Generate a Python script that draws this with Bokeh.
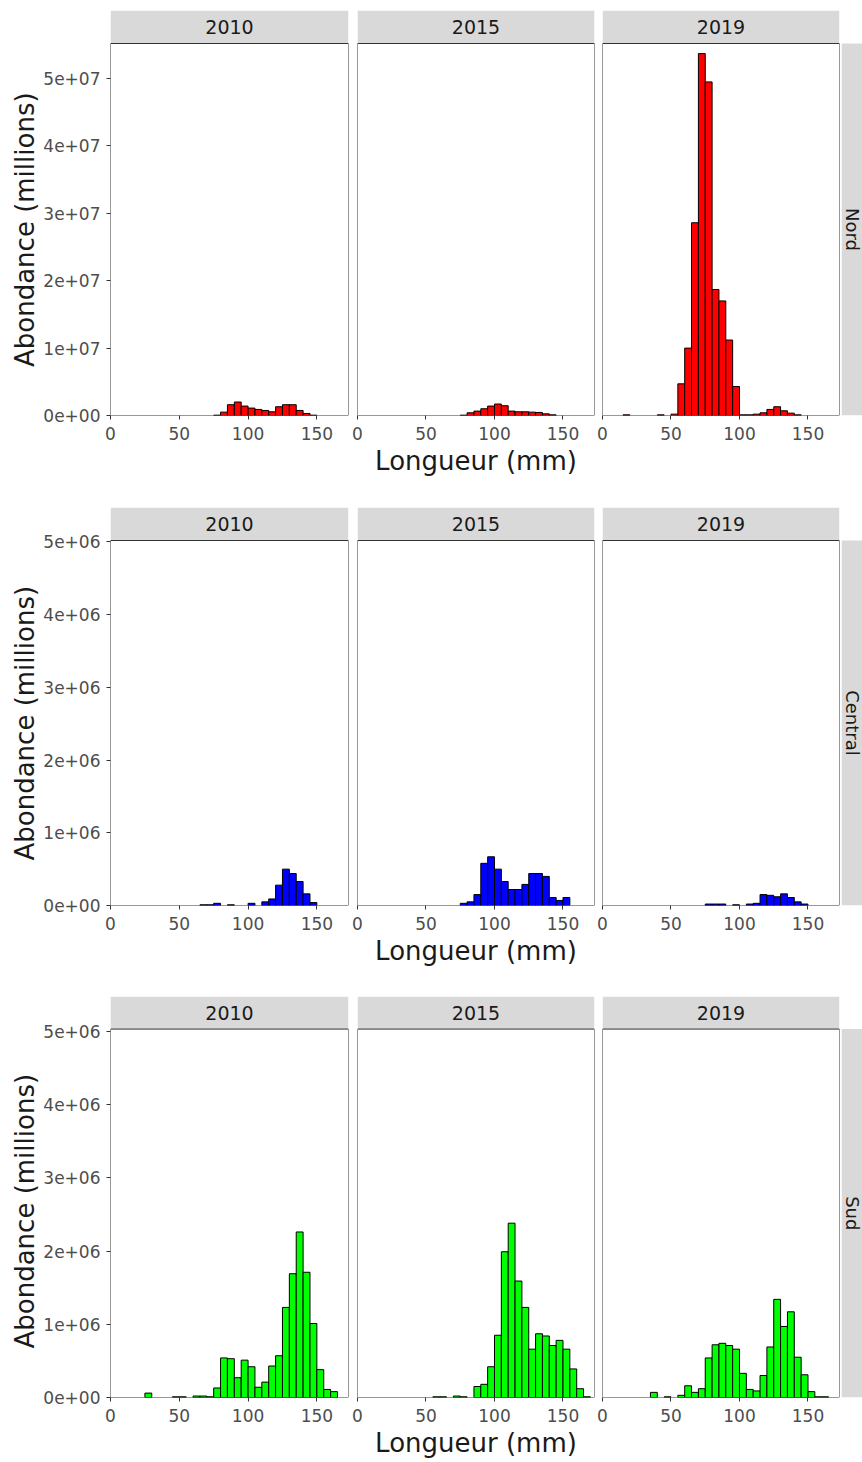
import math
from bokeh.plotting import figure
from bokeh.layouts import column, row
from bokeh.models import (Range1d, FixedTicker, CustomJSTickFormatter, Label,
                          BoxAnnotation, Title)
from bokeh.embed import file_html
from bokeh.resources import INLINE

# ---------------- data ----------------
years = ["2010", "2015", "2019"]
regions = ["Nord", "Central", "Sud"]
BIN_WIDTH = 5
x_ticks = [0, 50, 100, 150]
nord_y_ticks = [0, 1e7, 2e7, 3e7, 4e7, 5e7]
other_y_ticks = [0, 1e6, 2e6, 3e6, 4e6, 5e6]

nord_2010_len = [75, 80, 85, 90, 95, 100, 105, 110, 115, 120, 125, 130, 135, 140, 145]
nord_2010_abund = [0.05e6, 0.5e6, 1.6e6, 2.0e6, 1.4e6, 1.1e6, 0.9e6, 0.75e6, 0.55e6,
                   1.3e6, 1.6e6, 1.6e6, 0.75e6, 0.3e6, 0.05e6]
nord_2015_len = [75, 80, 85, 90, 95, 100, 105, 110, 115, 120, 125, 130, 135, 140]
nord_2015_abund = [0.05e6, 0.4e6, 0.65e6, 1.0e6, 1.4e6, 1.7e6, 1.45e6, 0.65e6, 0.55e6,
                   0.55e6, 0.5e6, 0.45e6, 0.25e6, 0.1e6]
nord_2019_len = [15, 40, 50, 55, 60, 65, 70, 75, 80, 85, 90, 95, 100, 105, 110, 115,
                 120, 125, 130, 135, 140]
nord_2019_abund = [0.1e6, 0.1e6, 0.2e6, 4.7e6, 10.0e6, 28.6e6, 53.7e6, 49.5e6, 18.7e6,
                   17.0e6, 11.2e6, 4.3e6, 0.1e6, 0.1e6, 0.2e6, 0.4e6, 0.9e6, 1.3e6,
                   0.7e6, 0.35e6, 0.1e6]

central_2010_len = [65, 70, 75, 85, 100, 110, 115, 120, 125, 130, 135, 140, 145]
central_2010_abund = [0.01e6, 0.01e6, 0.03e6, 0.01e6, 0.03e6, 0.05e6, 0.09e6, 0.28e6,
                      0.50e6, 0.44e6, 0.33e6, 0.16e6, 0.04e6]
central_2015_len = [75, 80, 85, 90, 95, 100, 105, 110, 115, 120, 125, 130, 135, 140,
                    145, 150]
central_2015_abund = [0.03e6, 0.05e6, 0.15e6, 0.58e6, 0.67e6, 0.50e6, 0.33e6, 0.22e6,
                      0.22e6, 0.29e6, 0.44e6, 0.44e6, 0.40e6, 0.11e6, 0.07e6, 0.11e6]
central_2019_len = [75, 80, 85, 95, 105, 110, 115, 120, 125, 130, 135, 140, 145]
central_2019_abund = [0.02e6, 0.02e6, 0.02e6, 0.01e6, 0.02e6, 0.03e6, 0.15e6, 0.14e6,
                      0.12e6, 0.16e6, 0.11e6, 0.05e6, 0.02e6]

sud_2010_len = [25, 45, 50, 60, 65, 70, 75, 80, 85, 90, 95, 100, 105, 110, 115, 120,
                125, 130, 135, 140, 145, 150, 155, 160]
sud_2010_abund = [0.06e6, 0.01e6, 0.01e6, 0.02e6, 0.02e6, 0.01e6, 0.13e6, 0.54e6,
                  0.53e6, 0.27e6, 0.51e6, 0.42e6, 0.14e6, 0.21e6, 0.43e6, 0.57e6,
                  1.23e6, 1.69e6, 2.26e6, 1.71e6, 1.01e6, 0.38e6, 0.11e6, 0.08e6]
sud_2015_len = [55, 60, 70, 75, 85, 90, 95, 100, 105, 110, 115, 120, 125, 130, 135,
                140, 145, 150, 155, 160, 165]
sud_2015_abund = [0.01e6, 0.01e6, 0.02e6, 0.01e6, 0.15e6, 0.18e6, 0.42e6, 0.85e6,
                  1.99e6, 2.38e6, 1.59e6, 1.23e6, 0.66e6, 0.87e6, 0.84e6, 0.71e6,
                  0.78e6, 0.66e6, 0.39e6, 0.12e6, 0.01e6]
sud_2019_len = [35, 45, 55, 60, 65, 70, 75, 80, 85, 90, 95, 100, 105, 110, 115, 120,
                125, 130, 135, 140, 145, 150, 155, 160]
sud_2019_abund = [0.07e6, 0.01e6, 0.03e6, 0.16e6, 0.07e6, 0.12e6, 0.54e6, 0.72e6,
                  0.74e6, 0.71e6, 0.66e6, 0.33e6, 0.11e6, 0.09e6, 0.30e6, 0.69e6,
                  1.34e6, 0.97e6, 1.17e6, 0.55e6, 0.31e6, 0.08e6, 0.01e6, 0.01e6]

series = {
    ("Nord", "2010"): (nord_2010_len, nord_2010_abund),
    ("Nord", "2015"): (nord_2015_len, nord_2015_abund),
    ("Nord", "2019"): (nord_2019_len, nord_2019_abund),
    ("Central", "2010"): (central_2010_len, central_2010_abund),
    ("Central", "2015"): (central_2015_len, central_2015_abund),
    ("Central", "2019"): (central_2019_len, central_2019_abund),
    ("Sud", "2010"): (sud_2010_len, sud_2010_abund),
    ("Sud", "2015"): (sud_2015_len, sud_2015_abund),
    ("Sud", "2019"): (sud_2019_len, sud_2019_abund),
}
region_colors = {"Nord": "#FF0000", "Central": "#0000FF", "Sud": "#00FF00"}
y_max = {"Nord": 55.2e6, "Central": 5.02e6, "Sud": 5.03e6}
y_ticks = {"Nord": nord_y_ticks, "Central": other_y_ticks, "Sud": other_y_ticks}
X_MAX = 173
Y_TITLE = "Abondance (millions)"
X_TITLE = "Longueur (mm)"

# ---------------- layout geometry (pixels) ----------------
FONT = "DejaVu Sans"
STRIP_FILL = "#D9D9D9"
BORDER = "#333333"
col_widths = [351, 245, 245]
col_mbl = [110, 6, 6]
col_mbr = [3, 2, 2]
top_pad = [10, 0, 0]
STRIP_H = 33
panel_h = [372, 365, 373]
bottom_h = [92, 91, 58]
side_w = 21
Y_TITLE_LEN = 275  # approx. rendered length of the y title (px)


def side_fig(ri, text):
    h = top_pad[ri] + STRIP_H + panel_h[ri] + bottom_h[ri]
    frac = panel_h[ri] / (panel_h[ri] + STRIP_H)
    s = figure(width=side_w, height=h, x_range=Range1d(0, 1),
               y_range=Range1d(0, 1), x_axis_type=None, y_axis_type=None,
               min_border_left=0, min_border_right=0,
               min_border_top=top_pad[ri], min_border_bottom=bottom_h[ri],
               output_backend="svg", toolbar_location=None, title=None)
    s.background_fill_color = "white"
    s.border_fill_color = "white"
    s.outline_line_color = None
    s.grid.visible = False
    s.add_layout(BoxAnnotation(top=frac, fill_color=STRIP_FILL, fill_alpha=1.0,
                               line_color=None, level="underlay"))
    s.add_layout(Label(x=0.5, y=frac / 2, text=text, text_align="center",
                       text_baseline="middle", angle=-math.pi / 2, text_font=FONT,
                       text_font_size="18px", text_color="#1A1A1A"))
    return s


def panel_fig(ri, ci):
    region = regions[ri]
    year = years[ci]
    lens, vals = series[(region, year)]
    ymax = y_max[region]
    # frame covers the strip + the panel; extend the y range to hold the strip
    y_top = ymax * (panel_h[ri] + STRIP_H) / panel_h[ri]
    h = top_pad[ri] + STRIP_H + panel_h[ri] + bottom_h[ri]
    p = figure(width=col_widths[ci], height=h,
               x_range=Range1d(0, X_MAX), y_range=Range1d(0, y_top),
               min_border_left=col_mbl[ci], min_border_right=col_mbr[ci],
               min_border_top=top_pad[ri], min_border_bottom=bottom_h[ri],
               output_backend="svg", toolbar_location=None, title=None)
    p.grid.visible = False
    p.background_fill_color = "white"
    p.border_fill_color = "white"
    p.outline_line_color = None

    # facet strip
    p.add_layout(BoxAnnotation(bottom=ymax, fill_color=STRIP_FILL, fill_alpha=1.0,
                               line_color=None, level="underlay"))
    p.add_layout(Label(x=X_MAX / 2, y=(ymax + y_top) / 2, text=year,
                       text_align="center", text_baseline="middle", text_font=FONT,
                       text_font_size="19px", text_color="#1A1A1A"))

    p.quad(left=lens, right=[v + BIN_WIDTH for v in lens], bottom=0, top=vals,
           fill_color=region_colors[region], line_color="black", line_width=1)

    # panel border
    p.add_layout(BoxAnnotation(left=0, right=X_MAX, bottom=0, top=ymax,
                               fill_alpha=0.0, line_color=BORDER, line_alpha=1.0,
                               line_width=1, level="overlay"))

    xa = p.xaxis[0]
    xa.ticker = FixedTicker(ticks=x_ticks)
    xa.axis_line_color = None
    xa.major_tick_line_color = BORDER
    xa.major_tick_out = 4
    xa.major_tick_in = 0
    xa.minor_tick_line_color = None
    xa.major_label_standoff = 7
    xa.major_label_text_font = FONT
    xa.major_label_text_font_size = "17px"
    xa.major_label_text_color = "#4D4D4D"
    if ci == 1:
        xa.axis_label = X_TITLE
        xa.axis_label_text_font = FONT
        xa.axis_label_text_font_size = "26px"
        xa.axis_label_text_font_style = "normal"
        xa.axis_label_text_color = "#1A1A1A"
        xa.axis_label_standoff = 3

    ya = p.yaxis[0]
    if ci == 0:
        ya.ticker = FixedTicker(ticks=y_ticks[region])
        ya.formatter = CustomJSTickFormatter(code="""
if (tick === 0) { return "0e+00"; }
const e = Math.floor(Math.log10(Math.abs(tick)) + 1e-9);
const m = Math.round(tick / Math.pow(10, e));
const es = String(Math.abs(e)).padStart(2, "0");
return m + "e" + (e < 0 ? "-" : "+") + es;
""")
        ya.axis_line_color = None
        ya.major_tick_line_color = BORDER
        ya.major_tick_out = 4
        ya.major_tick_in = 0
        ya.minor_tick_line_color = None
        ya.major_label_standoff = 6
        ya.major_label_text_font = FONT
        ya.major_label_text_font_size = "17px"
        ya.major_label_text_color = "#4D4D4D"
        # y title centred on the panel (not on panel + strip)
        ttl = Title(text=Y_TITLE, align="left",
                    offset=panel_h[ri] / 2 - Y_TITLE_LEN / 2,
                    text_font=FONT, text_font_size="26px",
                    text_font_style="normal", text_color="#1A1A1A",
                    standoff=2)
        p.add_layout(ttl, "left")
    else:
        ya.visible = False
    return p


blocks = []
for ri, region in enumerate(regions):
    panels = [panel_fig(ri, ci) for ci in range(3)]
    panels.append(side_fig(ri, region))
    blocks.append(row(panels, spacing=0))

layout = column(blocks, spacing=0)

open("out.html", "w").write(file_html(layout, INLINE, "Abondance"))
